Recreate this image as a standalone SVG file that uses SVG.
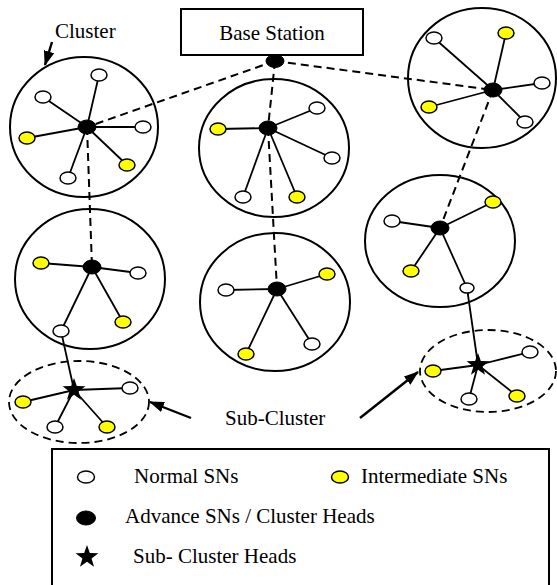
<svg xmlns="http://www.w3.org/2000/svg" width="557" height="585" viewBox="0 0 557 585">
  <style>
    .txt { font-family: "Liberation Serif", "Times New Roman", serif; font-size: 21px; fill: #000; }
    .cluster { fill: none; stroke: #000; stroke-width: 2; }
    .sub { fill: none; stroke: #000; stroke-width: 1.8; stroke-dasharray: 8 5; }
    .link { stroke: #000; stroke-width: 1.8; fill: none; }
    .dash { stroke: #000; stroke-width: 2; fill: none; stroke-dasharray: 8 5; }
    .pointer { stroke: #000; stroke-width: 2.4; fill: none; }
    .sn { fill: #fff; stroke: #000; stroke-width: 1.5; }
    .isn { fill: #ffff00; stroke: #000; stroke-width: 1.5; }
    .ch { fill: #000; stroke: #000; stroke-width: 1; }
  </style>
  <defs>
    <marker id="ah" viewBox="0 0 14 10" refX="13" refY="5" markerWidth="15" markerHeight="11" orient="auto" markerUnits="userSpaceOnUse">
      <path d="M0,0 L14,5 L0,10 Z" fill="#000"/>
    </marker>
    <path id="star" d="M0,-12 L2.82,-3.88 L11.41,-3.71 L4.57,1.48 L7.05,9.71 L0,4.8 L-7.05,9.71 L-4.57,1.48 L-11.41,-3.71 L-2.82,-3.88 Z" fill="#000"/>
  </defs>

  <rect width="557" height="585" fill="#fff"/>

  <!-- links -->
  <g id="connectors">
    <!-- backbone to the base station -->
    <line class="dash" x1="275" y1="61" x2="87" y2="127"/>
    <line class="dash" x1="275" y1="61" x2="493" y2="90"/>
    <line class="dash" x1="275" y1="61" x2="268" y2="128"/>
    <line class="dash" x1="268" y1="128" x2="277" y2="289"/>
    <line class="dash" x1="87" y1="127" x2="92" y2="267"/>
    <line class="dash" x1="493" y1="90" x2="440" y2="228"/>

    <!-- cluster 1 -->
    <line class="link" x1="87" y1="127" x2="99" y2="75"/>
    <line class="link" x1="87" y1="127" x2="43" y2="97"/>
    <line class="link" x1="87" y1="127" x2="143" y2="127"/>
    <line class="link" x1="87" y1="127" x2="27" y2="138"/>
    <line class="link" x1="87" y1="127" x2="127" y2="165"/>
    <line class="link" x1="87" y1="127" x2="68" y2="178"/>

    <!-- cluster 2 -->
    <line class="link" x1="268" y1="128" x2="317" y2="108"/>
    <line class="link" x1="268" y1="128" x2="218" y2="129"/>
    <line class="link" x1="268" y1="128" x2="332" y2="158"/>
    <line class="link" x1="268" y1="128" x2="243" y2="197"/>
    <line class="link" x1="268" y1="128" x2="297" y2="197"/>

    <!-- cluster 3 -->
    <line class="link" x1="493" y1="90" x2="434" y2="38"/>
    <line class="link" x1="493" y1="90" x2="506" y2="33"/>
    <line class="link" x1="493" y1="90" x2="542" y2="83"/>
    <line class="link" x1="493" y1="90" x2="429" y2="107"/>
    <line class="link" x1="493" y1="90" x2="525" y2="122"/>

    <!-- cluster 4 -->
    <line class="link" x1="277" y1="289" x2="226" y2="290"/>
    <line class="link" x1="277" y1="289" x2="327" y2="274"/>
    <line class="link" x1="277" y1="289" x2="246" y2="354"/>
    <line class="link" x1="277" y1="289" x2="312" y2="344"/>

    <!-- cluster 5 -->
    <line class="link" x1="440" y1="228" x2="392" y2="221"/>
    <line class="link" x1="440" y1="228" x2="493" y2="202"/>
    <line class="link" x1="440" y1="228" x2="411" y2="271"/>
    <line class="link" x1="440" y1="228" x2="467" y2="288"/>
    <line class="link" x1="467" y1="288" x2="478" y2="365"/>

    <!-- cluster 6 -->
    <line class="link" x1="92" y1="267" x2="41" y2="263"/>
    <line class="link" x1="92" y1="267" x2="138" y2="273"/>
    <line class="link" x1="92" y1="267" x2="123" y2="322"/>
    <line class="link" x1="92" y1="267" x2="61" y2="331"/>
    <line class="link" x1="61" y1="331" x2="74" y2="390"/>

    <!-- left sub-cluster -->
    <line class="link" x1="74" y1="390" x2="23" y2="402"/>
    <line class="link" x1="74" y1="390" x2="130" y2="388"/>
    <line class="link" x1="74" y1="390" x2="55" y2="427"/>
    <line class="link" x1="74" y1="390" x2="107" y2="427"/>

    <!-- right sub-cluster -->
    <line class="link" x1="478" y1="365" x2="433" y2="371"/>
    <line class="link" x1="478" y1="365" x2="530" y2="352"/>
    <line class="link" x1="478" y1="365" x2="469" y2="399"/>
    <line class="link" x1="478" y1="365" x2="517" y2="396"/>

    <!-- label pointers -->
    <line class="pointer" x1="52" y1="42" x2="45" y2="65" marker-end="url(#ah)"/>
    <line class="pointer" x1="191" y1="418" x2="150" y2="402" marker-end="url(#ah)"/>
    <line class="pointer" x1="360" y1="418" x2="418" y2="372" marker-end="url(#ah)"/>
  </g>

  <!-- base station -->
  <g id="base-station">
    <rect x="181" y="9" width="182" height="46" fill="#fff" stroke="#000" stroke-width="2"/>
    <text class="txt" x="272" y="40" text-anchor="middle">Base Station</text>
    <ellipse class="ch" cx="275" cy="61" rx="9" ry="6.5"/>
  </g>

  <g id="cluster-label">
    <text class="txt" x="55" y="38">Cluster</text>
  </g>

  <g id="cluster-1">
    <ellipse class="cluster" cx="84" cy="127" rx="74" ry="70"/>
    <ellipse class="sn" cx="99" cy="75" rx="8" ry="6"/>
    <ellipse class="sn" cx="43" cy="97" rx="8" ry="6"/>
    <ellipse class="sn" cx="143" cy="127" rx="8" ry="6"/>
    <ellipse class="isn" cx="27" cy="138" rx="8" ry="6"/>
    <ellipse class="isn" cx="127" cy="165" rx="8" ry="6"/>
    <ellipse class="sn" cx="68" cy="178" rx="8" ry="6"/>
    <ellipse class="ch" cx="87" cy="127" rx="9" ry="7"/>
  </g>

  <g id="cluster-2">
    <ellipse class="cluster" cx="274" cy="148" rx="75" ry="69"/>
    <ellipse class="sn" cx="317" cy="108" rx="8" ry="6"/>
    <ellipse class="isn" cx="218" cy="129" rx="8" ry="6"/>
    <ellipse class="sn" cx="332" cy="158" rx="8" ry="6"/>
    <ellipse class="sn" cx="243" cy="197" rx="8" ry="6"/>
    <ellipse class="isn" cx="297" cy="197" rx="8" ry="6"/>
    <ellipse class="ch" cx="268" cy="128" rx="9" ry="7"/>
  </g>

  <g id="cluster-3">
    <ellipse class="cluster" cx="482" cy="78" rx="74" ry="70"/>
    <ellipse class="sn" cx="434" cy="38" rx="8" ry="6"/>
    <ellipse class="isn" cx="506" cy="33" rx="8" ry="6"/>
    <ellipse class="sn" cx="542" cy="83" rx="8" ry="6"/>
    <ellipse class="isn" cx="429" cy="107" rx="8" ry="6"/>
    <ellipse class="sn" cx="525" cy="122" rx="8" ry="6"/>
    <ellipse class="ch" cx="493" cy="90" rx="9" ry="7"/>
  </g>

  <g id="cluster-4">
    <ellipse class="cluster" cx="275" cy="302" rx="75" ry="69"/>
    <ellipse class="sn" cx="226" cy="290" rx="8" ry="6"/>
    <ellipse class="isn" cx="327" cy="274" rx="8" ry="6"/>
    <ellipse class="isn" cx="246" cy="354" rx="8" ry="6"/>
    <ellipse class="sn" cx="312" cy="344" rx="8" ry="6"/>
    <ellipse class="ch" cx="277" cy="289" rx="9" ry="7"/>
  </g>

  <g id="cluster-5">
    <ellipse class="cluster" cx="440" cy="241" rx="75" ry="66"/>
    <ellipse class="sn" cx="392" cy="221" rx="8" ry="6"/>
    <ellipse class="isn" cx="493" cy="202" rx="8" ry="6"/>
    <ellipse class="isn" cx="411" cy="271" rx="8" ry="6"/>
    <ellipse class="sn" cx="467" cy="288" rx="7" ry="5"/>
    <ellipse class="ch" cx="440" cy="228" rx="9" ry="7"/>
  </g>

  <g id="cluster-6">
    <ellipse class="cluster" cx="90" cy="279" rx="75" ry="70"/>
    <ellipse class="isn" cx="41" cy="263" rx="8" ry="6"/>
    <ellipse class="sn" cx="138" cy="273" rx="8" ry="6"/>
    <ellipse class="isn" cx="123" cy="322" rx="8" ry="6"/>
    <ellipse class="sn" cx="61" cy="331" rx="8" ry="6"/>
    <ellipse class="ch" cx="92" cy="267" rx="9" ry="7"/>
  </g>

  <g id="sub-cluster-left">
    <ellipse class="sub" cx="79" cy="402" rx="70" ry="41"/>
    <ellipse class="isn" cx="23" cy="402" rx="8" ry="6"/>
    <ellipse class="sn" cx="130" cy="388" rx="8" ry="6"/>
    <ellipse class="sn" cx="55" cy="427" rx="8" ry="6"/>
    <ellipse class="isn" cx="107" cy="427" rx="8" ry="6"/>
    <use href="#star" x="74" y="390"/>
  </g>

  <g id="sub-cluster-right">
    <ellipse class="sub" cx="488" cy="371" rx="68" ry="41"/>
    <ellipse class="isn" cx="433" cy="371" rx="8" ry="6"/>
    <ellipse class="sn" cx="530" cy="352" rx="8" ry="6"/>
    <ellipse class="sn" cx="469" cy="399" rx="8" ry="6"/>
    <ellipse class="isn" cx="517" cy="396" rx="8" ry="6"/>
    <use href="#star" x="478" y="365"/>
  </g>

  <g id="sub-cluster-label">
    <text class="txt" x="225" y="425">Sub-Cluster</text>
  </g>

  <!-- key -->
  <g id="legend">
    <rect x="52" y="449" width="497" height="145" fill="#fff" stroke="#000" stroke-width="2"/>
    <ellipse class="sn" cx="86" cy="477" rx="8.5" ry="6"/>
    <text class="txt" x="134" y="483">Normal SNs</text>
    <ellipse class="isn" cx="340" cy="477" rx="8.5" ry="6"/>
    <text class="txt" x="361" y="483">Intermediate SNs</text>
    <ellipse class="ch" cx="86" cy="518" rx="9.5" ry="7"/>
    <text class="txt" x="125" y="523">Advance SNs / Cluster Heads</text>
    <use href="#star" x="87" y="557"/>
    <text class="txt" x="133" y="563">Sub- Cluster Heads</text>
  </g>
</svg>
